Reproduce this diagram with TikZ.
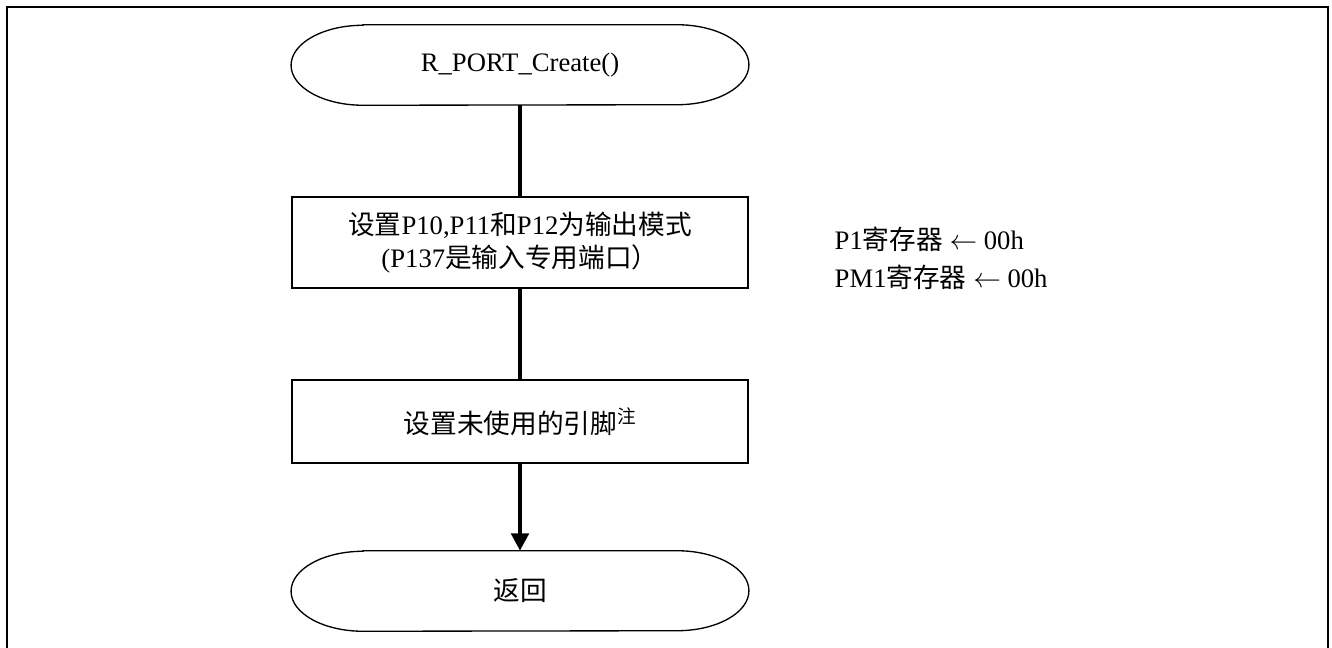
\documentclass[tikz,border=0pt]{standalone}
\usepackage{fontspec}
\setmainfont{Liberation Serif}
\newfontfamily\cjk{Noto Sans CJK SC}
\newcommand{\zh}[1]{{\cjk #1}}
\usepackage{tikz}
\usetikzlibrary{arrows.meta}

\tikzset{
  flowbox/.style={draw, line width=1.1pt, minimum width=342pt, inner sep=0pt, align=center},
  terminal/.style={minimum width=343pt, minimum height=60pt, inner sep=0pt},
  flow/.style={line width=3pt},
}

\begin{document}
\begin{tikzpicture}[x=0.75pt,y=-0.75pt,font=\fontsize{20}{24.75}\selectfont]
    \useasboundingbox (0,0) rectangle (1332,648);
    % Frame
    \draw[line width=2pt] (7,648) -- (7,7) -- (1328,7) -- (1328,648);
    % Flow Nodes
    \node[terminal] (start) at (520,65) {R\_PORT\_Create()};
    \node[flowbox, minimum height=68.25pt] (setout) at (520,242.5)
        {\zh{设置}P10,P11\zh{和}P12\zh{为输出模式}\\(P137\zh{是输入专用端口）}};
    \node[flowbox, minimum height=62.25pt] (unused) at (520,421.5)
        {\zh{设置未使用的引脚}\textsuperscript{\zh{注}}};
    \node[terminal] (ret) at (520,591) {\zh{返回}};
    % Terminal Outlines
    \foreach \t in {start,ret}
      \draw[line width=1pt] ([xshift=54pt]\t.north west) -- ([xshift=-54pt]\t.north east)
          arc[start angle=90,end angle=-90,x radius=54pt,y radius=30pt]
          -- ([xshift=54pt]\t.south west)
          arc[start angle=270,end angle=90,x radius=54pt,y radius=30pt] -- cycle;
    % Register Settings
    \node[anchor=west] (regp) at (830,239) {P1\zh{寄存器} $\leftarrow$ 00h};
    \node[anchor=west] (regpm) at (830,277) {PM1\zh{寄存器} $\leftarrow$ 00h};
    %
% Flow Edges:
 \draw[flow] (start) -- (setout);
 \draw[flow] (setout) -- (unused);
 \draw[flow, -{Triangle[length=13pt,width=13pt]}] (unused) -- (ret);
\end{tikzpicture}
\end{document}
